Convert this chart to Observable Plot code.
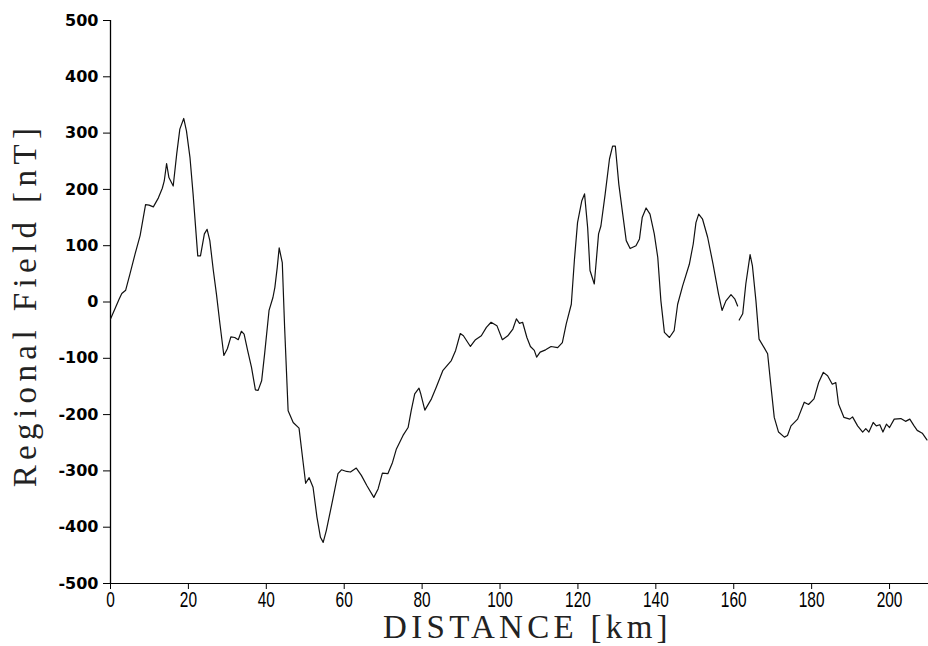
<!DOCTYPE html>
<html>
<head>
<meta charset="utf-8">
<script src="https://cdn.jsdelivr.net/npm/d3@7"></script>
<script src="https://cdn.jsdelivr.net/npm/@observablehq/plot@0.6"></script>
<style>
  html, body { margin: 0; padding: 0; background: white; }
  #chart { width: 928px; height: 646px; }
</style>
</head>
<body>
<div id="chart"></div>
<script>
const distance = [0, 1.15, 2.2, 2.9, 3.9, 5.0, 6.3, 7.6, 9.0, 9.9, 11.0, 12.3, 13.3, 13.8, 14.4, 15.0, 16.1, 17.0, 17.8, 18.8, 19.5, 20.4, 21.2, 22.4, 23.1, 24.1, 24.8, 25.5, 26.4, 27.2, 28.1, 29.1, 30.0, 30.9, 31.9, 32.8, 33.6, 34.3, 35.2, 36.2, 37.2, 37.9, 38.8, 39.6, 40.7, 41.7, 42.2, 42.8, 43.3, 44.1, 44.7, 45.6, 46.9, 48.4, 49.4, 50.1, 51.0, 52.0, 53.0, 53.9, 54.6, 55.4, 57.0, 58.4, 59.3, 60.6, 61.6, 63.1, 64.4, 65.8, 67.6, 68.7, 69.8, 71.2, 72.4, 73.4, 75.1, 76.4, 77.2, 78.1, 79.2, 79.6, 80.7, 82.4, 83.6, 85.3, 87.5, 88.6, 89.8, 90.6, 92.4, 93.7, 95.2, 96.5, 97.7, 99.2, 100.6, 102.0, 103.3, 104.2, 105.0, 105.8, 106.9, 107.8, 108.8, 109.4, 110.3, 111.7, 113.1, 114.8, 116.0, 117.0, 118.3, 119.1, 119.9, 121.0, 121.7, 122.5, 123.1, 124.2, 125.3, 125.9, 127.0, 128.1, 128.9, 129.6, 130.5, 131.5, 132.4, 133.4, 134.9, 135.8, 136.5, 137.5, 138.5, 139.6, 140.5, 141.3, 142.2, 143.5, 144.7, 145.6, 146.9, 148.6, 149.6, 150.3, 151.0, 152.0, 153.3, 154.7, 156.1, 157.0, 158.0, 159.3, 160.3, 161.0, 161.2, 161.4, 162.3, 163.1, 164.2, 164.8, 165.7, 166.5, 167.8, 168.7, 169.5, 170.4, 171.5, 173.0, 173.8, 174.7, 176.4, 178.1, 179.2, 180.6, 181.8, 183.0, 184.1, 185.3, 186.2, 186.9, 188.3, 189.8, 190.5, 191.8, 193.1, 193.9, 194.7, 195.8, 196.6, 197.5, 198.3, 199.2, 200.0, 201.2, 202.9, 204.1, 205.2, 206.3, 207.1, 208.4, 209.6];
const field = [-30, -12, 5, 15, 21, 50, 85, 118, 173, 172, 169, 185, 202, 215, 246, 221, 206, 263, 307, 326, 304, 257, 192, 82, 82, 121, 129, 109, 56, 14, -39, -95, -83, -62, -63, -67, -52, -57, -86, -116, -156, -157, -140, -90, -15, 8, 26, 61, 96, 70, -45, -193, -214, -224, -282, -322, -312, -329, -382, -418, -427, -406, -353, -305, -298, -301, -302, -295, -308, -326, -347, -332, -304, -305, -285, -261, -237, -223, -193, -163, -153, -162, -192, -172, -152, -122, -104, -86, -56, -60, -79, -67, -60, -45, -36, -42, -67, -60, -48, -30, -38, -36, -63, -79, -86, -98, -89, -85, -79, -81, -72, -39, -4, 75, 141, 180, 192, 132, 56, 32, 121, 135, 192, 254, 277, 277, 209, 156, 109, 95, 100, 112, 150, 167, 156, 121, 79, 2, -54, -63, -51, -4, 29, 67, 103, 141, 156, 147, 115, 67, 14, -15, 2, 13, 5, -7, null, -32, -21, 32, 84, 64, 2, -66, -81, -92, -146, -205, -231, -240, -237, -220, -208, -178, -182, -172, -143, -125, -131, -146, -143, -181, -205, -208, -204, -220, -231, -225, -231, -214, -220, -218, -231, -217, -223, -208, -207, -212, -208, -220, -228, -233, -245];
const xTicks = [0, 20, 40, 60, 80, 100, 120, 140, 160, 180, 200];
const yTicks = [-500, -400, -300, -200, -100, 0, 100, 200, 300, 400, 500];
const xTitle = "DISTANCE [km]";
const yTitle = "Regional Field [nT]";

const data = distance.map((d, i) => ({distance: d, field: field[i]}));
const XLABEL_FILL = "#010101";

const chart = Plot.plot({
  width: 928,
  height: 646,
  marginLeft: 110,
  marginRight: 0,
  marginTop: 20,
  marginBottom: 63,
  style: {background: "white", color: "black", overflow: "visible"},
  x: {domain: [0, 210]},
  y: {domain: [-500, 500]},
  marks: [
    Plot.ruleX([0], {stroke: "black", strokeWidth: 1.3}),
    Plot.ruleY([-500], {stroke: "black", strokeWidth: 1}),
    Plot.axisY({ticks: yTicks, tickSize: 7, tickPadding: 5, tickFormat: d => String(d), label: null,
      fontFamily: "DejaVu Sans", fontWeight: "bold", fontSize: 16, stroke: "black"}),
    Plot.axisX({ticks: xTicks, tickSize: 6, tickFormat: () => "", label: null, stroke: "black"}),
    Plot.text(xTicks, {x: d => d, text: d => String(d), frameAnchor: "bottom", lineAnchor: "top", dy: 8,
      fontFamily: "Liberation Sans, sans-serif", fontSize: 22, fill: XLABEL_FILL}),
    Plot.line(data, {x: "distance", y: "field", stroke: "#111", strokeWidth: 1.2}),
    Plot.text([xTitle], {frameAnchor: "bottom", textAnchor: "middle", dx: 8, dy: 54, fontFamily: "Liberation Serif, serif", fontSize: 33, fill: "#222"}),
    Plot.text([yTitle], {frameAnchor: "left", textAnchor: "middle", rotate: -90, dx: -85, dy: 3, fontFamily: "Liberation Serif, serif", fontSize: 33, fill: "#222"})
  ]
});
const svg = d3.select(chart);
svg.selectAll("text").filter(function() { return this.textContent === xTitle; }).style("letter-spacing", "4.3px");
svg.selectAll("text").filter(function() { return this.textContent === yTitle; }).style("letter-spacing", "5.4px");
// condense the x tick labels (narrow plotter-style digits)
svg.selectAll("text").filter(function() {
  const g = this.closest("g");
  return (this.getAttribute("fill") === XLABEL_FILL) || (g && g.getAttribute("fill") === XLABEL_FILL);
}).each(function() {
  const s = this.textContent;
  this.setAttribute("textLength", String(s.length * 8.6));
  this.setAttribute("lengthAdjust", "spacingAndGlyphs");
  this.setAttribute("fill", "black");
});
document.getElementById("chart").appendChild(chart);
</script>
</body>
</html>
